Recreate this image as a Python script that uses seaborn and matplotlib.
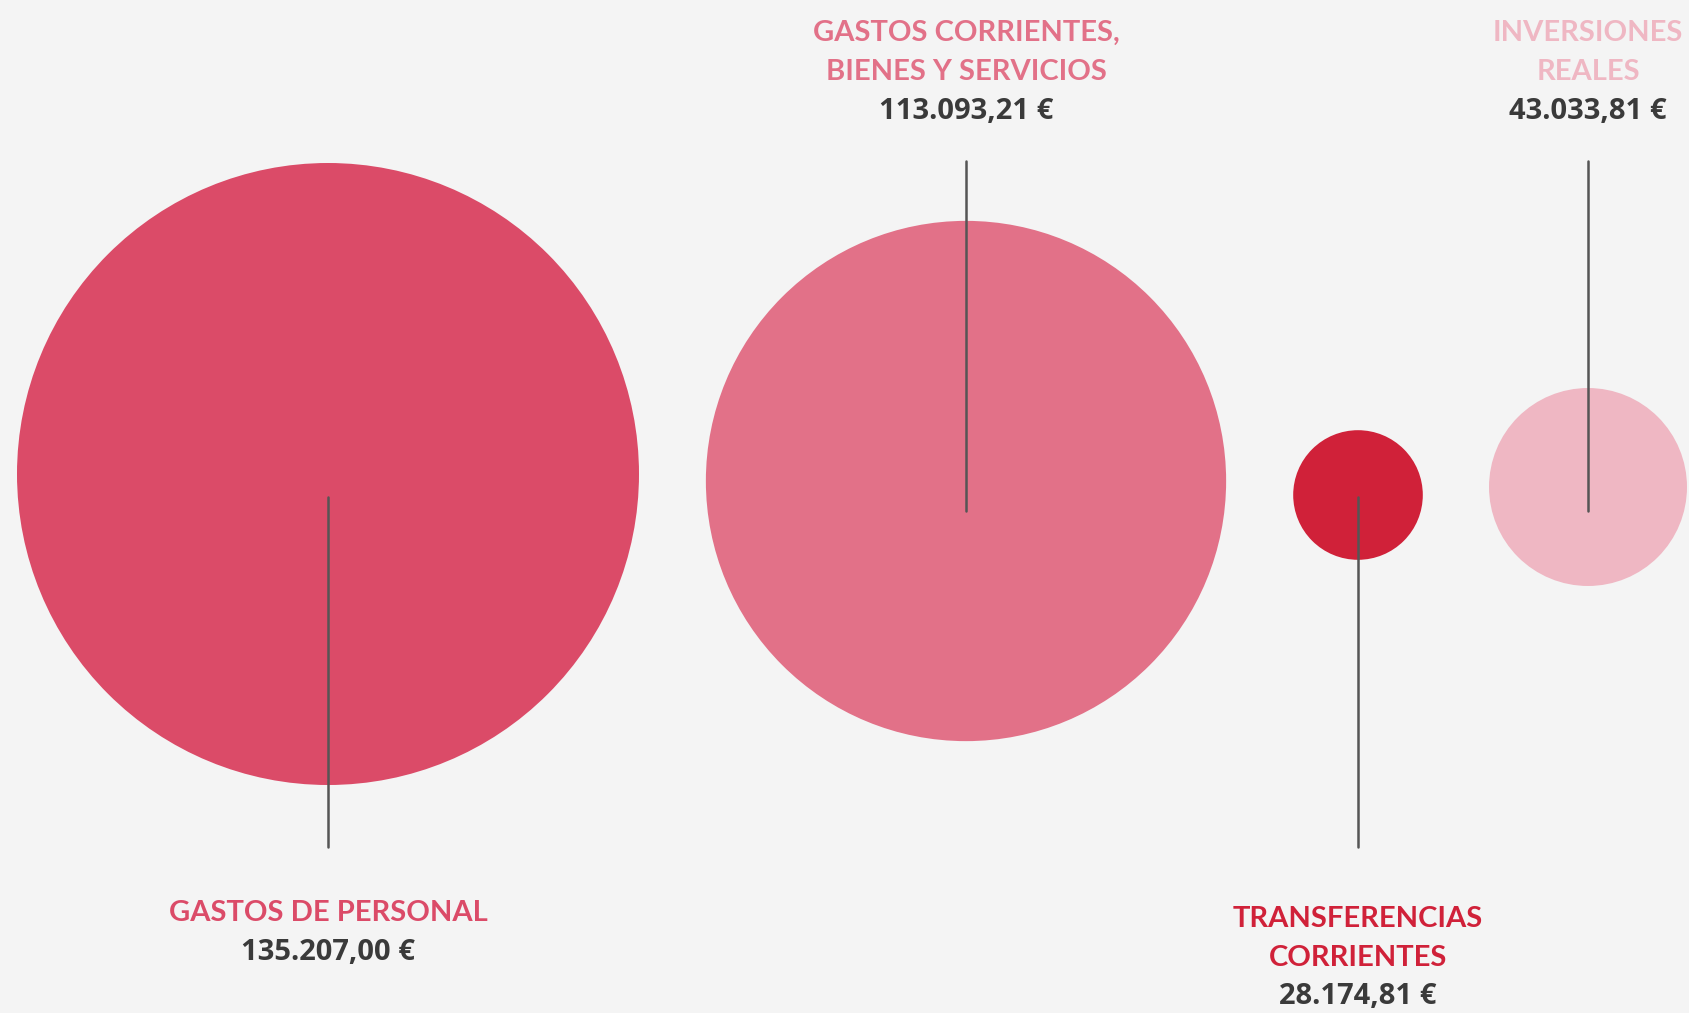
import matplotlib
matplotlib.use("Agg")
import matplotlib.pyplot as plt
from matplotlib.patches import Circle
import seaborn as sns

# --- datos ---
categorias = [["GASTOS DE PERSONAL"], ["GASTOS CORRIENTES,", "BIENES Y SERVICIOS"],
              ["TRANSFERENCIAS", "CORRIENTES"], ["INVERSIONES", "REALES"]]
importes = [135207.00, 113093.21, 28174.81, 43033.81]
etiquetas_importe = ["135.207,00 €", "113.093,21 €", "28.174,81 €", "43.033,81 €"]
colores = ["#DB4B68", "#E27188", "#D02139", "#EFB7C3"]

# --- disposición (pixeles) ---
centro_x = [328, 966, 1358, 1588]
centro_y = [474, 481, 495, 487]
radio_max = 311                     # radio del mayor importe
texto_abajo = [True, False, True, False]
salto = 39                          # distancia entre líneas de texto

sns.set_theme(style="white", rc={"axes.facecolor": "#F4F4F4", "figure.facecolor": "#F4F4F4"})
fuente_label = ["Lato", "DejaVu Sans"]
fuente_num = ["Open Sans", "DejaVu Sans"]

fig = plt.figure(figsize=(16.9, 10.13), dpi=100)
ax = fig.add_axes([0, 0, 1, 1])
ax.set_xlim(0, 1690)
ax.set_ylim(1013, 0)
ax.set_aspect("equal")
ax.axis("off")

for lineas, val, txt, col, cx, cy, abajo in zip(categorias, importes, etiquetas_importe,
                                              colores, centro_x, centro_y, texto_abajo):
    r = radio_max * val / max(importes)
    ax.add_patch(Circle((cx, cy), r, color=col, lw=0, zorder=1))
    if abajo:
        ax.plot([cx, cx], [497, 847], color="#555555", lw=1.8, zorder=2)
        y0 = 913 if len(lineas) == 1 else 919
    else:
        ax.plot([cx, cx], [161, 511], color="#555555", lw=1.8, zorder=2)
        y0 = 33
    for i, linea in enumerate(lineas):
        ax.text(cx, y0 + i * salto, linea, color=col, ha="center", va="center",
                fontsize=21, fontweight="bold", family=fuente_label)
    ax.text(cx, y0 + len(lineas) * salto, txt, color="#3A3A3A", ha="center", va="center",
            fontsize=21, fontweight="bold", family=fuente_num)

fig.savefig("out.png", dpi=100, facecolor=fig.get_facecolor())
